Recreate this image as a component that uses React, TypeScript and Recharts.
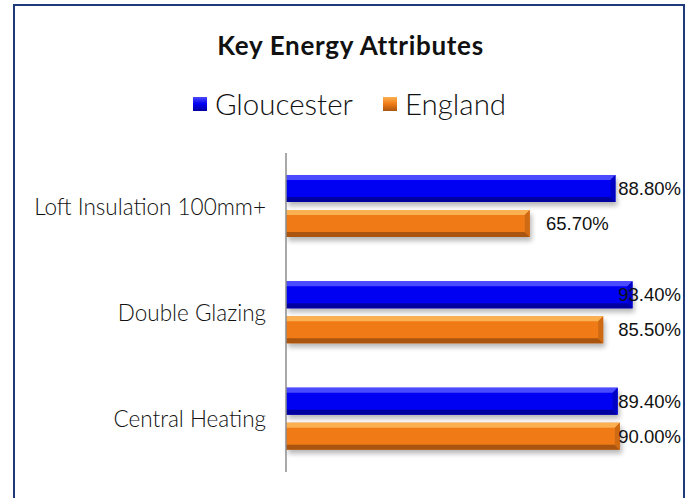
import { BarChart, Bar, XAxis, YAxis, LabelList } from "recharts";

const categories = ["Loft Insulation 100mm+", "Double Glazing", "Central Heating"];
const gloucester = [88.8, 93.4, 89.4];
const england = [65.7, 85.5, 90.0];
const seriesNames = ["Gloucester", "England"];

const data = categories.map((name, i) => ({
  name,
  gloucester: gloucester[i],
  england: england[i],
}));

const LABEL_FONT = "'Liberation Sans', Arial, sans-serif";
const TEXT_FONT = "Lato, 'Open Sans', sans-serif";

const TONES: Record<string, { mid: string; top: string; bot: string; side: string }> = {
  blue: { mid: "#0000f2", top: "#4a4aff", bot: "#0000a0", side: "#0000c4" },
  orange: { mid: "#f07a16", top: "#fbb052", bot: "#a95510", side: "#cf6a14" },
};

function bevelShape(tone: string) {
  return (props: any) => {
    const { x, y, width: w, height: h } = props;
    const c = TONES[tone];
    const b = 5;
    return (
      <g>
        <rect x={x + 2} y={y + 4} width={w} height={h} fill="#000" opacity={0.28} filter="url(#barShadow)" />
        <rect x={x} y={y} width={w} height={h} fill={c.mid} />
        <polygon points={`${x},${y} ${x + w},${y} ${x + w - b},${y + b} ${x},${y + b}`} fill={c.top} />
        <polygon points={`${x},${y + h} ${x + w},${y + h} ${x + w - b},${y + h - b} ${x},${y + h - b}`} fill={c.bot} />
        <polygon points={`${x + w},${y} ${x + w},${y + h} ${x + w - b},${y + h - b} ${x + w - b},${y + b}`} fill={c.side} />
      </g>
    );
  };
}

// Excel pushes the label left when it would run past the chart edge
const RIGHT_LIMIT = 681;
function pctLabel(props: any) {
  const { x, y, width, height, value } = props;
  const textW = 63;
  const right = Math.min(x + width + 16 + textW, RIGHT_LIMIT);
  return (
    <text
      x={right}
      y={y + height / 2}
      textAnchor="end"
      dominantBaseline="central"
      fontFamily={LABEL_FONT}
      fontSize={18.5}
      fill="#111"
    >
      {Number(value).toFixed(2)}%
    </text>
  );
}

function CategoryTick(props: any) {
  const { x, y, payload } = props;
  return (
    <text
      x={x}
      y={y}
      textAnchor="end"
      dominantBaseline="central"
      fontFamily={TEXT_FONT}
      fontWeight={300}
      fontSize={22.5}
      fill="#111"
    >
      {payload.value}
    </text>
  );
}

function ChartLegend() {
  const items = [
    { name: seriesNames[0], tone: "blue" },
    { name: seriesNames[1], tone: "orange" },
  ];
  return (
    <div
      style={{
        position: "absolute",
        left: 0,
        width: 693,
        top: 86,
        display: "flex",
        justifyContent: "center",
        alignItems: "center",
        gap: 30,
        fontFamily: TEXT_FONT,
        fontWeight: 300,
        fontSize: 29.5,
        color: "#111",
        paddingLeft: 6,
        boxSizing: "border-box",
      }}
    >
      {items.map((it) => {
        const c = TONES[it.tone];
        return (
          <div key={it.name} style={{ display: "flex", alignItems: "center", gap: 8 }}>
            <span
              style={{
                display: "inline-block",
                width: 14,
                height: 14,
                background: `linear-gradient(${c.top}, ${c.mid} 50%, ${c.bot})`,
              }}
            />
            <span>{it.name}</span>
          </div>
        );
      })}
    </div>
  );
}

export default function App() {
  return (
    <div style={{ position: "relative", width: 693, height: 498, background: "#fff", overflow: "hidden" }}>
      <style>{"body{margin:0}"}</style>
      <div
        style={{
          position: "absolute",
          left: 13,
          top: 4,
          width: 672,
          height: 520,
          border: "2px solid #1f3a7a",
          boxSizing: "border-box",
        }}
      />
      <div
        style={{
          position: "absolute",
          left: 0,
          width: 693,
          top: 29,
          paddingLeft: 8,
          boxSizing: "border-box",
          textAlign: "center",
          fontFamily: TEXT_FONT,
          fontWeight: 700,
          fontSize: 26,
          letterSpacing: 0.7,
          color: "#111",
        }}
      >
        Key Energy Attributes
      </div>
      <ChartLegend />
      <BarChart
        width={693}
        height={498}
        data={data}
        layout="vertical"
        margin={{ top: 153, right: 36, bottom: 26, left: 0 }}
        barSize={27}
        barGap={8}
        style={{ position: "absolute", left: 0, top: 0 }}
      >
        <defs>
          <filter id="barShadow" x="-10%" y="-50%" width="120%" height="200%">
            <feGaussianBlur stdDeviation="2.5" />
          </filter>
        </defs>
        <XAxis type="number" domain={[0, 100]} hide />
        <YAxis
          type="category"
          dataKey="name"
          width={286}
          axisLine={{ stroke: "#8c8c8c", strokeWidth: 1.5 }}
          tickLine={false}
          tickMargin={14}
          tick={<CategoryTick />}
        />
        <Bar dataKey="gloucester" name={seriesNames[0]} shape={bevelShape("blue")} isAnimationActive={false}>
          <LabelList dataKey="gloucester" content={pctLabel} />
        </Bar>
        <Bar dataKey="england" name={seriesNames[1]} shape={bevelShape("orange")} isAnimationActive={false}>
          <LabelList dataKey="england" content={pctLabel} />
        </Bar>
      </BarChart>
    </div>
  );
}
